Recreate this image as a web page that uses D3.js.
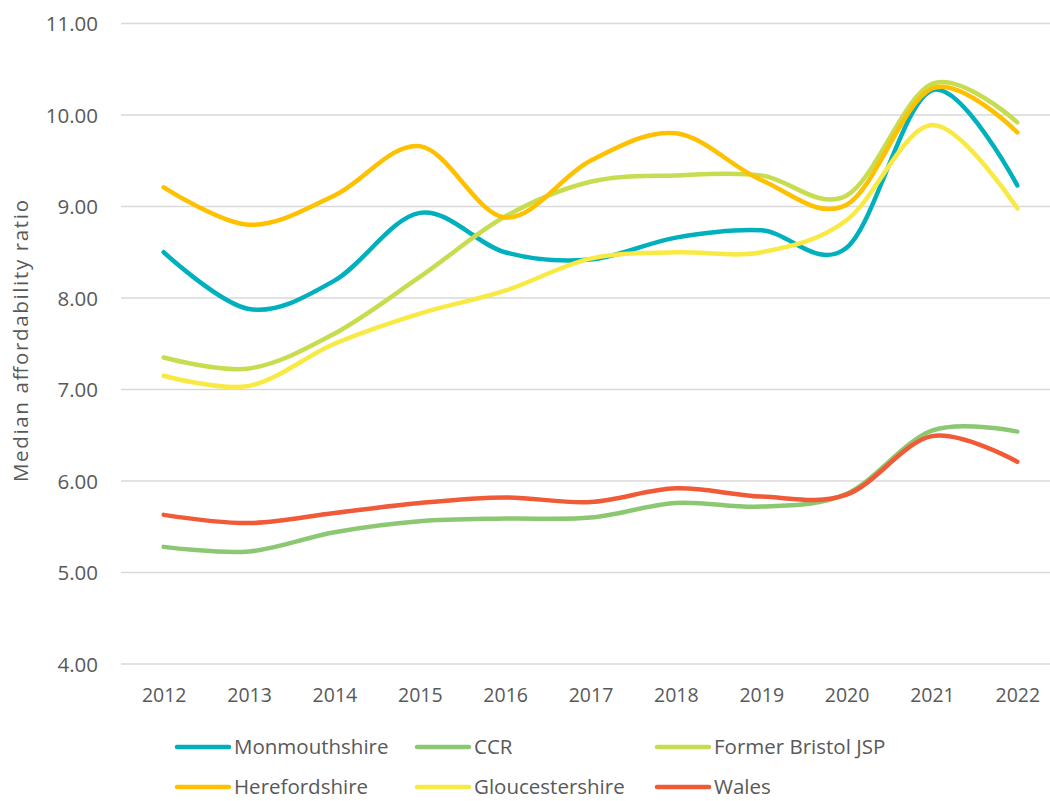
<!DOCTYPE html>
<html>
<head>
<meta charset="utf-8">
<script src="https://cdn.jsdelivr.net/npm/d3@7"></script>
<style>
  html, body { margin: 0; padding: 0; background: #fff; }
  svg { display: block; }
  text { font-family: "Open Sans", "Noto Sans", sans-serif; fill: #595959; }
</style>
</head>
<body>
<svg id="chart" width="1050" height="801"></svg>
<script>
const years = ["2012","2013","2014","2015","2016","2017","2018","2019","2020","2021","2022"];
const yTicks = [4, 5, 6, 7, 8, 9, 10, 11];
const seriesNames = ["Monmouthshire", "CCR", "Former Bristol JSP", "Herefordshire", "Gloucestershire", "Wales"];
const seriesColors = ["#00B1BD", "#8CC872", "#C8DC50", "#FFC000", "#F8E943", "#F05A37"];
const monmouthshire = [8.50, 7.88, 8.19, 8.93, 8.50, 8.42, 8.66, 8.74, 8.55, 10.27, 9.23];
const ccr = [5.28, 5.23, 5.44, 5.56, 5.59, 5.60, 5.76, 5.72, 5.86, 6.55, 6.54];
const formerBristol = [7.35, 7.23, 7.61, 8.23, 8.89, 9.27, 9.34, 9.34, 9.12, 10.34, 9.92];
const herefordshire = [9.21, 8.80, 9.12, 9.66, 8.88, 9.50, 9.80, 9.29, 9.02, 10.29, 9.81];
const gloucestershire = [7.15, 7.04, 7.50, 7.83, 8.08, 8.43, 8.50, 8.50, 8.85, 9.89, 8.98];
const wales = [5.63, 5.54, 5.65, 5.76, 5.82, 5.77, 5.92, 5.83, 5.85, 6.49, 6.21];
const seriesValues = [monmouthshire, ccr, formerBristol, herefordshire, gloucestershire, wales];

const svg = d3.select("#chart");
const plotLeft = 121, plotRight = 1060, plotTop = 23.5, plotBottom = 664;

const x = d3.scalePoint().domain(years).range([plotLeft, plotRight]).padding(0.5);
const y = d3.scaleLinear().domain([4, 11]).range([plotBottom, plotTop]);

// gridlines
svg.append("g").selectAll("line").data(yTicks).join("line")
  .attr("x1", plotLeft).attr("x2", 1050)
  .attr("y1", d => y(d)).attr("y2", d => y(d))
  .attr("stroke", "#d9d9d9").attr("stroke-width", 1.5);

// y axis labels
const yAxis = d3.axisLeft(y).tickValues(yTicks).tickFormat(d3.format(".2f")).tickSize(0).tickPadding(0);
const gy = svg.append("g").attr("transform", "translate(98,0)").call(yAxis);
gy.select(".domain").remove();
gy.selectAll("text").attr("font-size", 20.5).attr("fill", "#595959").attr("dy", "0.36em")
  .style("font-family", "'Open Sans', sans-serif");

// x axis labels
const xAxis = d3.axisBottom(x).tickSize(0).tickPadding(0);
const gx = svg.append("g").attr("transform", "translate(0,694.5)").call(xAxis);
gx.select(".domain").remove();
gx.selectAll("text").attr("font-size", 19.5).attr("fill", "#595959").attr("y", 0).attr("dy", "0.36em")
  .style("font-family", "'Open Sans', sans-serif");

// y title
svg.append("text")
  .attr("transform", "translate(21,341) rotate(-90)")
  .attr("text-anchor", "middle")
  .attr("dy", "0.36em")
  .attr("font-size", 20.5)
  .attr("textLength", 282)
  .attr("lengthAdjust", "spacing")
  .text("Median affordability ratio");

// lines
const line = d3.line()
  .x((d, i) => x(years[i]))
  .y(d => y(d))
  .curve(d3.curveCardinal.tension(0));

svg.append("g").selectAll("path").data(seriesValues).join("path")
  .attr("d", d => line(d))
  .attr("fill", "none")
  .attr("stroke", (d, i) => seriesColors[i])
  .attr("stroke-width", 4.5)
  .attr("stroke-linecap", "round")
  .attr("stroke-linejoin", "round");

// legend
const legendX = [175, 415, 655];
const legendY = [747, 787];
const lg = svg.append("g");
seriesNames.forEach((name, i) => {
  const col = i % 3, row = Math.floor(i / 3);
  const gx0 = legendX[col], gy0 = legendY[row];
  lg.append("line")
    .attr("x1", gx0 + 2).attr("x2", gx0 + 54)
    .attr("y1", gy0).attr("y2", gy0)
    .attr("stroke", seriesColors[i]).attr("stroke-width", 4.5)
    .attr("stroke-linecap", "round");
  lg.append("text")
    .attr("x", gx0 + 59).attr("y", gy0)
    .attr("dy", "0.36em")
    .attr("font-size", 20.5)
    .text(name);
});
</script>
</body>
</html>
